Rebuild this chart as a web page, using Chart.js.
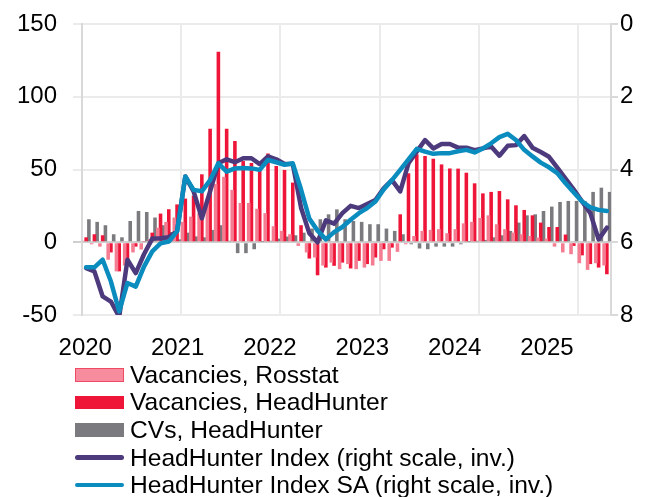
<!DOCTYPE html>
<html><head><meta charset="utf-8">
<script src="https://cdn.jsdelivr.net/npm/chart.js@4/dist/chart.umd.min.js"></script>
<style>
html,body{margin:0;padding:0;background:#fff;}
#wrap{position:relative;width:665px;height:497px;overflow:hidden;}
#legend{position:absolute;left:75px;top:361px;font-family:"Liberation Sans",Arial,sans-serif;font-size:24.6px;color:#000;}
.row{display:flex;align-items:center;height:27.6px;white-space:nowrap;}
.sw{width:49px;margin-right:6px;flex:none;box-sizing:border-box;display:inline-block;}
</style></head><body>
<div id="wrap"><canvas id="c" width="665" height="497"></canvas><div id="legend"></div></div>
<script>
const years = ['2020','2021','2022','2023','2024','2025'];
const monthNames = ['Jan','Feb','Mar','Apr','May','Jun','Jul','Aug','Sep','Oct','Nov','Dec'];
const categories = [];
for (const y of years) for (const m of monthNames) if (categories.length < 64) categories.push(m + ' ' + y);

const pinkRosstat = [1,-1.4,-3,-12,-20,-16,-7,-5,2,10, 14,17,14,17.6,20,30,40,45,36,27, 27,23,20,11,7.8,5.5,-2.5,-7,-10.5,-16, -14,-18.5,-15,-18.5,-17.4,-16,-12.8,-12.8,-6.6,-1.4, 4.3,7.8,8.5,9,6.2,9,13,14,16.7,18.5, 12.4,9,6.6,5.5,4.3,3.2,2.5,-3,-7,-8.2, -14.4,-19,-14.4,-16];
const redHH = [3.4,5.5,4.8,-7,-20,-16,-3,0.5,6.6,19.7, 22.7,26,30,32,46.7,78,131,78,69.6,55.8, 54.5,50,61,52.4,49.7,41,11.7,-11.2,-22.7,-17.4, -16.2,-14,-18,-12.8,-15,-10.5,-4.8,-3.7,19.2,47.4, 60.4,59.3,57.4,53.5,50.7,50.6,47.8,40.5,33.6,34.6, 35.2,29.5,25.4,22.2,18.5,13.5,10.5,10.5,5.3,-2.5, -9,-15,-17.4,-22];
const grayCV = [15.8,14,11.7,5.5,3.4,14.6,21.5,20.8,17,11.7, 7,2,6.6,4,3.4,8.5,11.7,1,-7.5,-7.5, -4.8,0.3,1,2.5,3.9,4.8,6.6,9.4,15.8,19.2, 22.6,15.8,14.6,14,12.4,12.4,9.4,7.8,5.5,-1.4, -4.3,-4.8,-3,-3,-3,-1.4,0.3,1,1.6,3.4, 4.8,7.8,13.5,18.5,19.2,21.5,24.5,27.7,28.4,28.4, 28.4,34.6,37.5,34.6];
const hhIndex = [6.71,6.8,7.49,7.63,8.05,6.48,6.85,6.33,5.9,5.89, 5.86,5.70,4.19,4.6,5.34,4.6,3.83,3.72,3.8,3.69, 3.69,3.85,3.64,3.72,3.85,3.85,5.05,5.75,6.0,5.4, 5.49,5.2,5.0,5.06,4.95,4.84,4.52,4.29,4.6,3.83, 3.51,3.19,3.42,3.30,3.30,3.40,3.40,3.47,3.42,3.37, 3.62,3.35,3.33,3.08,3.40,3.52,3.65,3.95,4.25,4.55, 4.88,5.2,5.92,5.6];
const hhIndexSA = [6.69,6.69,6.48,7.08,7.9,7.12,7.22,6.67,6.25,6.03, 5.98,5.70,4.19,4.56,4.6,4.29,3.83,4.06,3.97,3.96, 3.97,4.01,3.74,3.8,3.87,3.83,4.55,5.35,5.68,5.92, 5.72,5.58,5.38,5.2,5.06,4.88,4.55,4.29,4.01,3.72, 3.43,3.51,3.57,3.55,3.55,3.5,3.46,3.53,3.42,3.28, 3.11,3.02,3.19,3.46,3.64,3.81,3.94,4.1,4.38,4.63, 4.88,5.04,5.11,5.14];

const FONT = {family: '"Liberation Sans", Arial, sans-serif', size: 24};
const barCommon = {type: 'bar', yAxisID: 'y', order: 2, barPercentage: 1.3, categoryPercentage: 1, borderWidth: 0};

function noPad(ax) { ax.paddingTop = 0; ax.paddingBottom = 0; ax.paddingLeft = 0; ax.paddingRight = 0; }

const chart = new Chart(document.getElementById('c'), {
  data: {
    labels: categories,
    datasets: [
      Object.assign({label: 'Vacancies, Rosstat', data: pinkRosstat, backgroundColor: '#f47d92'}, barCommon),
      Object.assign({label: 'Vacancies, HeadHunter', data: redHH, backgroundColor: '#ee1538'}, barCommon),
      Object.assign({label: 'CVs, HeadHunter', data: grayCV, backgroundColor: '#7b7b7f'}, barCommon),
      {type: 'line', label: 'HeadHunter Index (right scale, inv.)', data: hhIndex, borderColor: '#4d3a7d', backgroundColor: '#4d3a7d', borderWidth: 4.5, pointRadius: 0, tension: 0, borderJoinStyle: 'round', borderCapStyle: 'round', yAxisID: 'y2', order: 1},
      {type: 'line', label: 'HeadHunter Index SA (right scale, inv.)', data: hhIndexSA, borderColor: '#0a8cbf', backgroundColor: '#0a8cbf', borderWidth: 4.5, pointRadius: 0, tension: 0, borderJoinStyle: 'round', borderCapStyle: 'round', yAxisID: 'y2', order: 0}
    ]
  },
  options: {
    responsive: false,
    animation: false,
    events: [],
    layout: {autoPadding: false, padding: {left: 17, right: 32, top: 24, bottom: 134}},
    plugins: {legend: {display: false}, tooltip: {enabled: false}},
    scales: {
      x: {
        type: 'category', offset: true, position: 'bottom',
        grid: {offset: true, drawTicks: false, lineWidth: 2,
          color: (c) => (c.index % 12 === 0 && c.index > 0 && c.index < 64) ? '#ebebeb' : 'rgba(0,0,0,0)'},
        border: {display: false},
        ticks: {display: false},
        afterFit: (ax) => { ax.height = 0; noPad(ax); }
      },
      xLab: {
        type: 'linear', position: 'bottom', min: -0.035, max: 5.693,
        grid: {display: false}, border: {display: false},
        afterBuildTicks: (ax) => { ax.ticks = years.map((_, i) => ({value: i})); },
        ticks: {autoSkip: false, padding: 11, font: FONT, color: '#000', maxRotation: 0,
          callback: (v) => years[v]},
        afterFit: (ax) => { ax.height = 48; noPad(ax); }
      },
      y: {
        position: 'left', min: -50, max: 150,
        ticks: {stepSize: 50, padding: 16, font: FONT, color: '#000'},
        grid: {lineWidth: 2, tickLength: 9,
          color: (c) => (c.tick && c.tick.value === 0) ? '#cfcfcf' : '#ebebeb'},
        border: {color: '#d9d9d9', width: 2},
        afterFit: (ax) => { ax.width = 65; noPad(ax); }
      },
      y2: {
        position: 'right', min: 0, max: 8, reverse: true,
        ticks: {stepSize: 2, padding: 2, font: FONT, color: '#000'},
        grid: {drawOnChartArea: false, tickLength: 7, color: '#d9d9d9', lineWidth: 2},
        border: {color: '#d9d9d9', width: 2},
        afterFit: (ax) => { ax.width = 22; noPad(ax); }
      }
    }
  }
});

const leg = document.getElementById('legend');
chart.data.datasets.forEach((ds) => {
  const row = document.createElement('div');
  row.className = 'row';
  const sw = document.createElement('span');
  sw.className = 'sw';
  if (ds.type === 'bar') {
    sw.style.height = '13.5px';
    sw.style.background = ds.label === 'Vacancies, Rosstat' ? '#f68c9e' : ds.backgroundColor;
    if (ds.label === 'Vacancies, Rosstat') sw.style.border = '1px solid #ee4a64';
  } else {
    sw.style.height = '4.5px';
    sw.style.background = ds.borderColor;
    sw.style.borderRadius = '3px';
  }
  const t = document.createElement('span');
  t.textContent = ds.label;
  row.appendChild(sw);
  row.appendChild(t);
  leg.appendChild(row);
});
</script>
</body></html>
